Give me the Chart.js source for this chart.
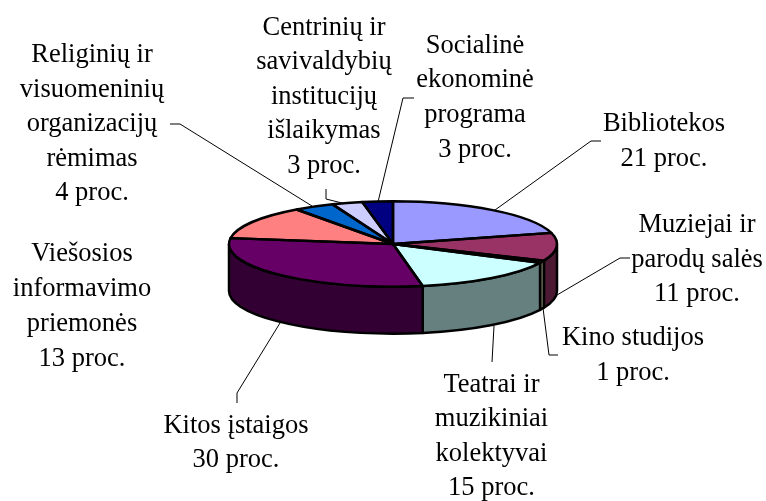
<!DOCTYPE html>
<html><head><meta charset="utf-8">
<style>html,body{margin:0;padding:0;background:#fff}canvas{display:block}</style>
<script src="https://cdn.jsdelivr.net/npm/chart.js@4"></script>
</head><body><canvas id="c" width="766" height="501"></canvas>
<script>
const categories = ["Bibliotekos","Muziejai ir parodų salės","Kino studijos","Teatrai ir muzikiniai kolektyvai","Kitos įstaigos","Viešosios informavimo priemonės","Religinių ir visuomeninių organizacijų rėmimas","Centrinių ir savivaldybių institucijų išlaikymas","Socialinė ekonominė programa"];
const values = [20.8,10.6,0.9,14.8,30.1,12.8,4,3,3];
const topColors = ["#9999FF","#993366","#FFFFCC","#CCFFFF","#660066","#FF8080","#0066CC","#CCCCFF","#000080"];
const wallColors = ["#4C4C80","#4C1933","#808066","#668080","#330033","#804040","#003366","#666680","#000040"];
const labelLines = [
 ["Bibliotekos","21 proc."],
 ["Muziejai ir","parodų salės","11 proc."],
 ["Kino studijos","1 proc."],
 ["Teatrai ir","muzikiniai","kolektyvai","15 proc."],
 ["Kitos įstaigos","30 proc."],
 ["Viešosios","informavimo","priemonės","13 proc."],
 ["Religinių ir","visuomeninių","organizacijų","rėmimas","4 proc."],
 ["Centrinių ir","savivaldybių","institucijų","išlaikymas","3 proc."],
 ["Socialinė","ekonominė","programa","3 proc."]
];
const labelX = [664,697,633,491.5,236,82,92,324,475];
const labelBase = [[131,166],[232,267,301],[345,380],[392,426,461,495],[433,467],[261,296,331,366],[62,96.5,131,166,200],[35,69,104,138,173],[53,87,122,157]];
const leaders = [
 [[495,210],[591,141],[601,141]],
 [[557,295],[620,258],[630,258]],
 [[543,308],[549,355],[558,355]],
 [[494,326],[492,362]],
 [[280,323],[237,393],[237,403]],
 [[312,206],[180,124],[170,124]],
 [[342,203],[326,199],[326,189]],
 [[378,202],[403,98],[414,98]]
];
const squash = 0.26, depth = 47, fontSize = 26.5, outline = 2.5;

const pie3d = {
  id:'pie3d',
  beforeDatasetsDraw(chart){
    const ctx = chart.ctx, arcs = chart.getDatasetMeta(0).data;
    const {x:cx,y:cy,outerRadius:r} = arcs[0];
    const ry = r*squash;
    ctx.save();
    ctx.lineWidth = outline; ctx.strokeStyle = '#000'; ctx.lineJoin='round';
    arcs.forEach((a,i)=>{
      const s = Math.max(a.startAngle,0), e = Math.min(a.endAngle,Math.PI);
      if (e<=s) return;
      ctx.beginPath();
      ctx.ellipse(cx,cy,r,ry,0,s,e);
      ctx.lineTo(cx+r*Math.cos(e),cy+ry*Math.sin(e)+depth);
      ctx.ellipse(cx,cy+depth,r,ry,0,e,s,true);
      ctx.closePath();
      ctx.fillStyle = wallColors[i];
      ctx.fill(); ctx.stroke();
    });
    ctx.restore();
    ctx.save();
    ctx.translate(cx,cy); ctx.scale(1,squash); ctx.translate(-cx,-cy);
  },
  afterDatasetsDraw(chart){
    const ctx = chart.ctx, arcs = chart.getDatasetMeta(0).data;
    ctx.restore();
    const {x:cx,y:cy,outerRadius:r} = arcs[0];
    const ry = r*squash;
    ctx.save();
    ctx.lineWidth = outline; ctx.strokeStyle = '#000'; ctx.lineJoin='round';
    arcs.forEach(a=>{
      ctx.beginPath();
      ctx.moveTo(cx,cy);
      ctx.ellipse(cx,cy,r,ry,0,a.startAngle,a.endAngle);
      ctx.closePath();
      ctx.stroke();
    });
    ctx.lineWidth = 1; ctx.strokeStyle='#000';
    leaders.forEach(l=>{
      ctx.beginPath();
      l.forEach((p,i)=> i?ctx.lineTo(p[0],p[1]):ctx.moveTo(p[0],p[1]));
      ctx.stroke();
    });
    ctx.fillStyle='#000';
    ctx.font = fontSize+'px "Liberation Serif"';
    ctx.textAlign='center'; ctx.textBaseline='alphabetic';
    labelLines.forEach((lines,i)=>{
      lines.forEach((t,j)=>ctx.fillText(t,labelX[i],labelBase[i][j]));
    });
    ctx.restore();
  }
};

new Chart(document.getElementById('c'),{
  type:'pie',
  data:{labels:categories,datasets:[{data:values,backgroundColor:topColors,borderWidth:0}]},
  options:{
    responsive:false,animation:false,
    layout:{padding:{left:229,right:209,top:80,bottom:93}},
    plugins:{legend:{display:false},tooltip:{enabled:false}}
  },
  plugins:[pie3d]
});
</script></body></html>
